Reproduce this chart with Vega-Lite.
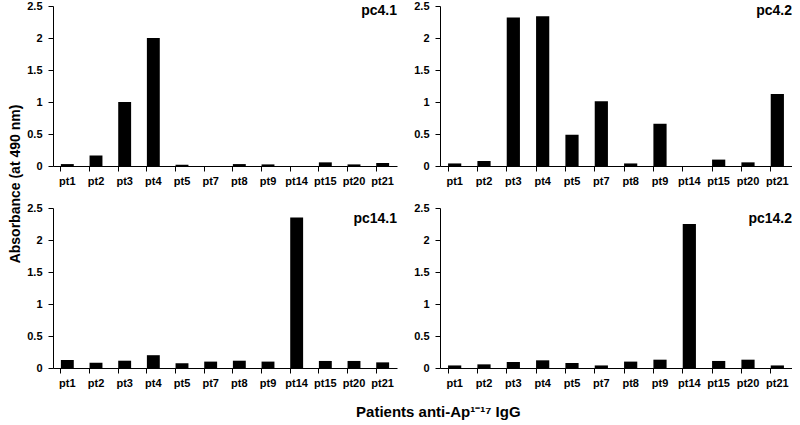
{
  "$schema": "https://vega.github.io/schema/vega-lite/v6.json",
  "background": "white",
  "padding": {"left": 8, "right": 0, "top": 0, "bottom": 0},
  "config": {
    "font": "Liberation Sans",
    "view": {"stroke": null},
    "concat": {"spacing": 16},
    "axis": {"labelFont": "Liberation Sans", "labelFontWeight": "bold", "labelFontSize": 11, "labelColor": "black", "domainColor": "black", "tickColor": "black", "grid": false, "titleColor": "black"},
    "title": {"font": "Liberation Sans", "fontWeight": "bold", "color": "black"}
  },
  "datasets": {
    "abs": [
      {"panel": "pc4.1", "patient": "pt1", "value": 0.03},
      {"panel": "pc4.1", "patient": "pt2", "value": 0.166},
      {"panel": "pc4.1", "patient": "pt3", "value": 1.0},
      {"panel": "pc4.1", "patient": "pt4", "value": 2.0},
      {"panel": "pc4.1", "patient": "pt5", "value": 0.02},
      {"panel": "pc4.1", "patient": "pt7", "value": 0.0},
      {"panel": "pc4.1", "patient": "pt8", "value": 0.03},
      {"panel": "pc4.1", "patient": "pt9", "value": 0.025},
      {"panel": "pc4.1", "patient": "pt14", "value": 0.0},
      {"panel": "pc4.1", "patient": "pt15", "value": 0.057},
      {"panel": "pc4.1", "patient": "pt20", "value": 0.025},
      {"panel": "pc4.1", "patient": "pt21", "value": 0.047},
      {"panel": "pc4.2", "patient": "pt1", "value": 0.04},
      {"panel": "pc4.2", "patient": "pt2", "value": 0.078},
      {"panel": "pc4.2", "patient": "pt3", "value": 2.32},
      {"panel": "pc4.2", "patient": "pt4", "value": 2.34},
      {"panel": "pc4.2", "patient": "pt5", "value": 0.49},
      {"panel": "pc4.2", "patient": "pt7", "value": 1.01},
      {"panel": "pc4.2", "patient": "pt8", "value": 0.04},
      {"panel": "pc4.2", "patient": "pt9", "value": 0.66},
      {"panel": "pc4.2", "patient": "pt14", "value": 0.0},
      {"panel": "pc4.2", "patient": "pt15", "value": 0.1},
      {"panel": "pc4.2", "patient": "pt20", "value": 0.057},
      {"panel": "pc4.2", "patient": "pt21", "value": 1.125},
      {"panel": "pc14.1", "patient": "pt1", "value": 0.125},
      {"panel": "pc14.1", "patient": "pt2", "value": 0.083},
      {"panel": "pc14.1", "patient": "pt3", "value": 0.114},
      {"panel": "pc14.1", "patient": "pt4", "value": 0.2},
      {"panel": "pc14.1", "patient": "pt5", "value": 0.073},
      {"panel": "pc14.1", "patient": "pt7", "value": 0.1},
      {"panel": "pc14.1", "patient": "pt8", "value": 0.114},
      {"panel": "pc14.1", "patient": "pt9", "value": 0.1},
      {"panel": "pc14.1", "patient": "pt14", "value": 2.35},
      {"panel": "pc14.1", "patient": "pt15", "value": 0.11},
      {"panel": "pc14.1", "patient": "pt20", "value": 0.11},
      {"panel": "pc14.1", "patient": "pt21", "value": 0.088},
      {"panel": "pc14.2", "patient": "pt1", "value": 0.04},
      {"panel": "pc14.2", "patient": "pt2", "value": 0.057},
      {"panel": "pc14.2", "patient": "pt3", "value": 0.094},
      {"panel": "pc14.2", "patient": "pt4", "value": 0.12},
      {"panel": "pc14.2", "patient": "pt5", "value": 0.078},
      {"panel": "pc14.2", "patient": "pt7", "value": 0.04},
      {"panel": "pc14.2", "patient": "pt8", "value": 0.1},
      {"panel": "pc14.2", "patient": "pt9", "value": 0.13},
      {"panel": "pc14.2", "patient": "pt14", "value": 2.25},
      {"panel": "pc14.2", "patient": "pt15", "value": 0.11},
      {"panel": "pc14.2", "patient": "pt20", "value": 0.13},
      {"panel": "pc14.2", "patient": "pt21", "value": 0.04}
    ]
  },
  "title": {"text": "Patients  anti-Ap¹⁻¹⁷ IgG", "orient": "bottom", "anchor": "middle", "fontSize": 15, "offset": 17, "dx": 38},
  "vconcat": [
    {
      "title": {"text": "Absorbance (at 490 nm)", "orient": "left", "anchor": "middle", "fontSize": 14, "offset": 4, "dx": 10},
      "vconcat": [
        {
          "spacing": 16,
          "hconcat": [
            {
              "width": 344, "height": 160,
              "data": {"name": "abs"},
              "transform": [{"filter": "datum.panel === 'pc4.1'"}],
              "title": {"text": "pc4.1", "anchor": "end", "offset": -18, "fontSize": 14},
              "mark": {"type": "bar", "color": "black"},
              "encoding": {
                "x": {"field": "patient", "type": "nominal", "sort": null, "title": null, "scale": {"paddingInner": 0.55, "paddingOuter": 0.275}, "axis": {"labelAngle": 0, "bandPosition": 0, "tickSize": 5, "labelPadding": 4}},
                "y": {"field": "value", "type": "quantitative", "title": null, "scale": {"domain": [0, 2.5]}, "axis": {"values": [0, 0.5, 1, 1.5, 2, 2.5], "format": ".1~f", "tickSize": 5, "labelPadding": 6}}
              }
            },
            {
              "width": 352, "height": 160,
              "data": {"name": "abs"},
              "transform": [{"filter": "datum.panel === 'pc4.2'"}],
              "title": {"text": "pc4.2", "anchor": "end", "offset": -18, "fontSize": 14},
              "mark": {"type": "bar", "color": "black"},
              "encoding": {
                "x": {"field": "patient", "type": "nominal", "sort": null, "title": null, "scale": {"paddingInner": 0.55, "paddingOuter": 0.275}, "axis": {"labelAngle": 0, "bandPosition": 0, "tickSize": 5, "labelPadding": 4}},
                "y": {"field": "value", "type": "quantitative", "title": null, "scale": {"domain": [0, 2.5]}, "axis": {"values": [0, 0.5, 1, 1.5, 2, 2.5], "format": ".1~f", "tickSize": 5, "labelPadding": 6}}
              }
            }
          ]
        },
        {
          "spacing": 16,
          "hconcat": [
            {
              "width": 344, "height": 160,
              "data": {"name": "abs"},
              "transform": [{"filter": "datum.panel === 'pc14.1'"}],
              "title": {"text": "pc14.1", "anchor": "end", "offset": -24, "fontSize": 14},
              "mark": {"type": "bar", "color": "black"},
              "encoding": {
                "x": {"field": "patient", "type": "nominal", "sort": null, "title": null, "scale": {"paddingInner": 0.55, "paddingOuter": 0.275}, "axis": {"labelAngle": 0, "bandPosition": 0, "tickSize": 5, "labelPadding": 4}},
                "y": {"field": "value", "type": "quantitative", "title": null, "scale": {"domain": [0, 2.5]}, "axis": {"values": [0, 0.5, 1, 1.5, 2, 2.5], "format": ".1~f", "tickSize": 5, "labelPadding": 6}}
              }
            },
            {
              "width": 352, "height": 160,
              "data": {"name": "abs"},
              "transform": [{"filter": "datum.panel === 'pc14.2'"}],
              "title": {"text": "pc14.2", "anchor": "end", "offset": -24, "fontSize": 14},
              "mark": {"type": "bar", "color": "black"},
              "encoding": {
                "x": {"field": "patient", "type": "nominal", "sort": null, "title": null, "scale": {"paddingInner": 0.55, "paddingOuter": 0.275}, "axis": {"labelAngle": 0, "bandPosition": 0, "tickSize": 5, "labelPadding": 4}},
                "y": {"field": "value", "type": "quantitative", "title": null, "scale": {"domain": [0, 2.5]}, "axis": {"values": [0, 0.5, 1, 1.5, 2, 2.5], "format": ".1~f", "tickSize": 5, "labelPadding": 6}}
              }
            }
          ]
        }
      ]
    }
  ]
}
